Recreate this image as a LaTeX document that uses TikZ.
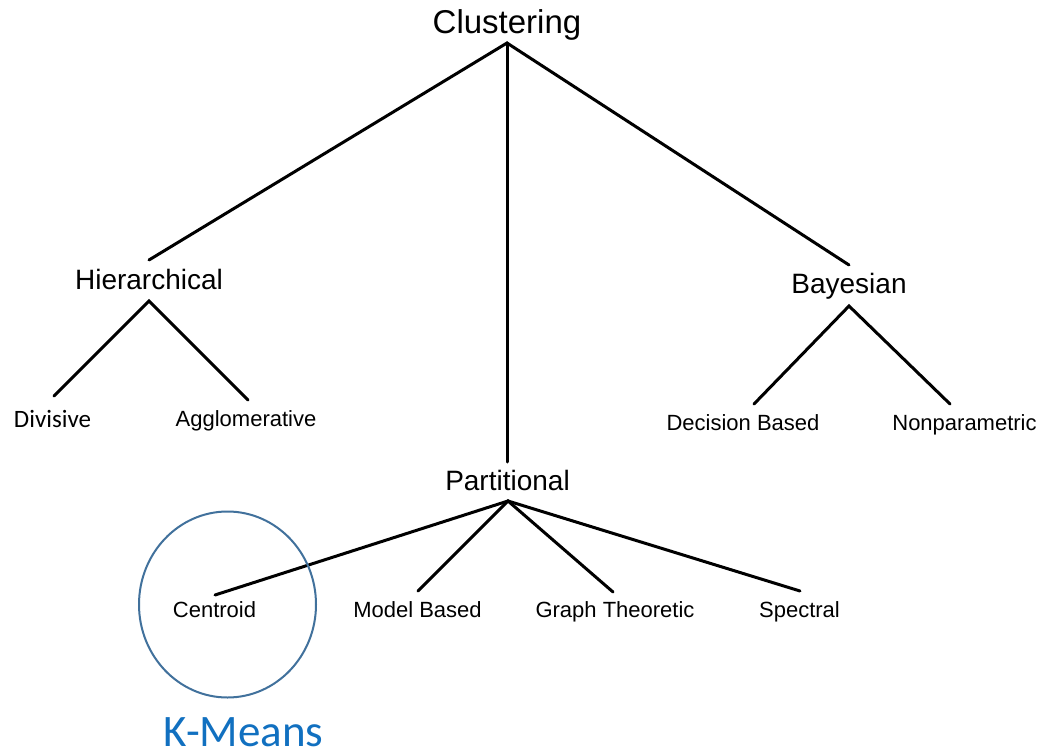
\documentclass[tikz,border=0pt]{standalone}
\usepackage{fontspec}
\setmainfont{Liberation Sans}
\newfontfamily\calibrifont{Carlito}
\definecolor{ringblue}{HTML}{41719C}
\definecolor{labelblue}{HTML}{1170C0}
\begin{document}
\begin{tikzpicture}[x=1pt,y=-1pt,
  lbl/.style={anchor=base,inner sep=0pt,text=black},
  big/.style={lbl,font=\fontsize{33}{38}\selectfont},
  mid/.style={lbl,font=\fontsize{28}{33}\selectfont},
  small/.style={lbl,font=\fontsize{22}{26}\selectfont},
  branch/.style={draw=black,line width=3pt,line cap=round}]
\useasboundingbox (0,0) rectangle (1043,754);
\fill[white] (0,0) rectangle (1043,754);

% labels
\node[big] (clu) at (507,34) {Clustering};
\node[mid] (hie) at (149,289) {Hierarchical};
\node[mid] (bay) at (849,293) {Bayesian};
\node[mid] (par) at (507.5,490) {Partitional};
\node[lbl,font=\calibrifont\fontsize{25}{30}\selectfont] (div) at (52.5,427) {Divisive};
\node[small] (agg) at (246,426) {Agglomerative};
\node[small] (dec) at (743,430) {Decision Based};
\node[small] (non) at (964.5,430) {Nonparametric};
\node[small] (cen) at (214.5,617) {Centroid};
\node[small] (mod) at (417.5,617) {Model Based};
\node[small] (gra) at (615,617) {Graph Theoretic};
\node[small] (spe) at (799.5,617) {Spectral};
\node[lbl,text=labelblue,font=\calibrifont\fontsize{45}{52}\selectfont] (km) at (243.5,746) {K-Means};

% connector end points
\coordinate (clu-o) at (507,43);
\coordinate (hie-i) at (149,260);
\coordinate (bay-i) at (849,265);
\coordinate (par-i) at (507,462);
\coordinate (hie-o) at (149,301);
\coordinate (div-i) at (54,396);
\coordinate (agg-i) at (248,400);
\coordinate (bay-o) at (849,306);
\coordinate (dec-i) at (754,404);
\coordinate (non-i) at (950,404);
\coordinate (par-o) at (508,501);
\coordinate (cen-i) at (215,595);
\coordinate (mod-i) at (418,591);
\coordinate (gra-i) at (613,592);
\coordinate (spe-i) at (800,591);

% tree branches
\draw[branch] (hie-i) -- (clu-o) -- (bay-i);
\draw[branch] (clu-o) -- (par-i);
\draw[branch] (div-i) -- (hie-o) -- (agg-i);
\draw[branch] (dec-i) -- (bay-o) -- (non-i);
\draw[branch] (cen-i) -- (par-o) -- (spe-i);
\draw[branch] (mod-i) -- (par-o) -- (gra-i);

% highlight ring around the centroid family
\draw[ringblue,line width=2pt] (227.5,604.5) ellipse [x radius=88.5,y radius=93];
\end{tikzpicture}
\end{document}
